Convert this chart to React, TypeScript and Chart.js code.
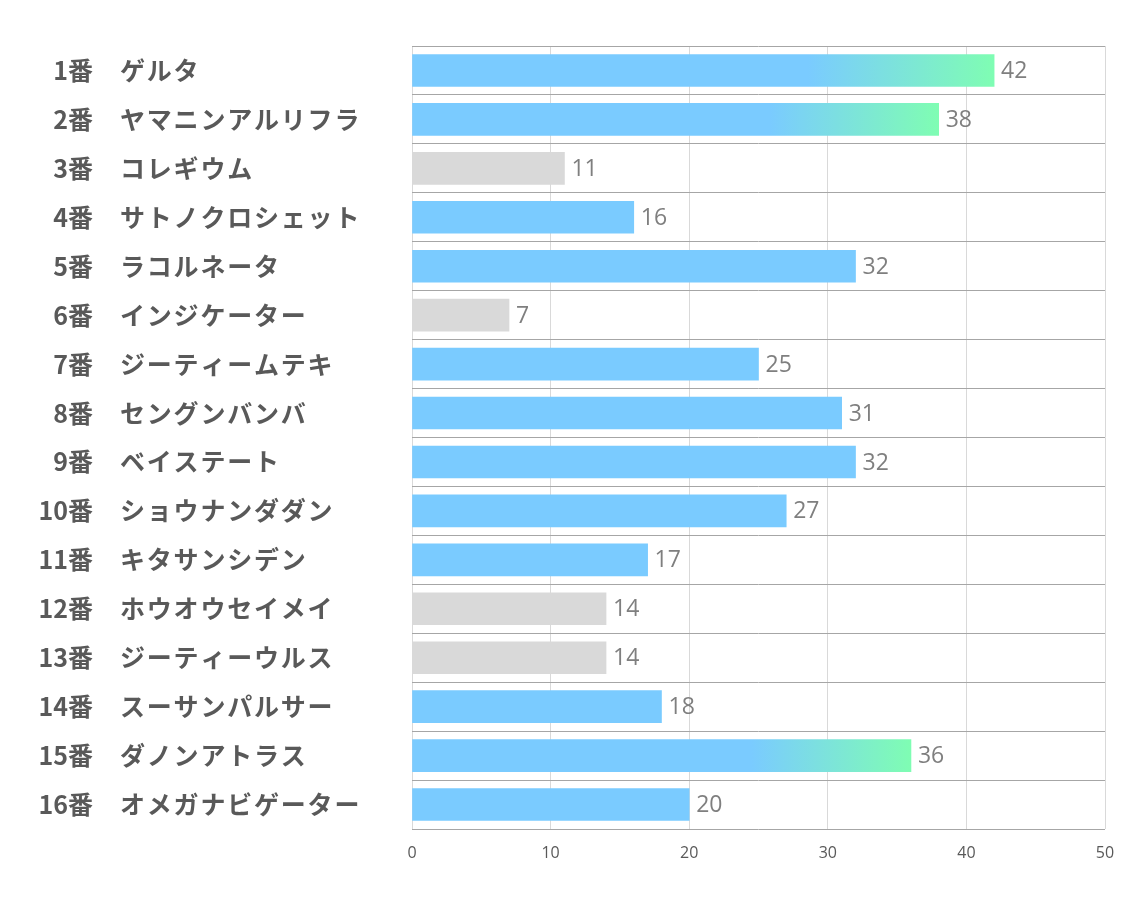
import React, { useEffect, useRef } from "react";
import { Chart, registerables } from "chart.js";

Chart.register(...registerables);

const numbers = ["1番", "2番", "3番", "4番", "5番", "6番", "7番", "8番", "9番", "10番", "11番", "12番", "13番", "14番", "15番", "16番"];
const names = ["ゲルタ", "ヤマニンアルリフラ", "コレギウム", "サトノクロシェット", "ラコルネータ", "インジケーター", "ジーティームテキ", "セングンバンバ", "ベイステート", "ショウナンダダン", "キタサンシデン", "ホウオウセイメイ", "ジーティーウルス", "スーサンパルサー", "ダノンアトラス", "オメガナビゲーター"];
const values = [42, 38, 11, 16, 32, 7, 25, 31, 32, 27, 17, 14, 14, 18, 36, 20];
// kind: "g" = gradient highlight, "b" = blue, "x" = gray
const kinds = ["g", "g", "x", "b", "b", "x", "b", "b", "b", "b", "b", "x", "x", "b", "g", "b"];
const xTicks = [0, 10, 20, 30, 40, 50];

const BLUE = "#7ACBFF";
const GREEN = "#7FFDB3";
const GRAY = "#D9D9D9";

export default function App() {
  const ref = useRef<HTMLCanvasElement | null>(null);

  useEffect(() => {
    document.body.style.margin = "0";
    const canvas = ref.current!;
    const labelPlugin = {
      id: "rowLabels",
      afterDraw(chart: any) {
        const ctx = chart.ctx;
        const y = chart.scales.y;
        ctx.save();
        ctx.fillStyle = "#595959";
        ctx.font = "bold 25px 'Noto Sans CJK JP', 'Noto Sans', sans-serif";
        ctx.textBaseline = "middle";
        numbers.forEach((n, i) => {
          const cy = y.getPixelForValue(i);
          ctx.textAlign = "right";
          ctx.fillText(n, 93, cy);
          ctx.textAlign = "left";
          (ctx as any).letterSpacing = "1.8px";
          ctx.fillText(names[i], 120, cy);
          (ctx as any).letterSpacing = "0px";
        });
        // value labels
        const meta = chart.getDatasetMeta(0);
        ctx.font = "23px 'Open Sans', 'Noto Sans', sans-serif";
        ctx.fillStyle = "#7F7F7F";
        ctx.textAlign = "left";
        meta.data.forEach((bar: any, i: number) => {
          ctx.fillText(String(values[i]), bar.x + 7, bar.y + 1);
        });
        // x tick labels
        const xs = chart.scales.x;
        ctx.font = "16px 'Open Sans', 'Noto Sans', sans-serif";
        ctx.fillStyle = "#595959";
        ctx.textAlign = "center";
        xTicks.forEach((v) => {
          ctx.fillText(String(v), xs.getPixelForValue(v), 853);
        });
        ctx.restore();
      },
    };

    const chart = new Chart(canvas, {
      type: "bar",
      data: {
        labels: numbers.map((n, i) => n + "　" + names[i]),
        datasets: [
          {
            data: values,
            barThickness: 32,
            backgroundColor: (c: any) => {
              const i = c.dataIndex;
              const k = kinds[i];
              if (k === "x") return GRAY;
              if (k === "b") return BLUE;
              const chartObj = c.chart;
              const xs = chartObj.scales.x;
              if (!xs || !chartObj.chartArea) return BLUE;
              const x0 = xs.getPixelForValue(0);
              const x1 = xs.getPixelForValue(values[i]);
              const g = chartObj.ctx.createLinearGradient(x0, 0, x1, 0);
              g.addColorStop(0, BLUE);
              g.addColorStop(0.68, BLUE);
              g.addColorStop(1, GREEN);
              return g;
            },
            borderWidth: 0,
          },
        ],
      },
      options: {
        indexAxis: "y",
        animation: false,
        responsive: false,
        maintainAspectRatio: false,
        layout: { padding: { left: 412, right: 29, top: 46, bottom: 0 } },
        plugins: { legend: { display: false }, tooltip: { enabled: false } },
        scales: {
          x: {
            min: 0,
            max: 50,
            afterBuildTicks: (s: any) => {
              s.ticks = xTicks.map((v) => ({ value: v }));
            },
            afterFit: (s: any) => {
              s.height = 78;
            },
            grid: { color: "#D9D9D9", drawTicks: false, lineWidth: 1 },
            border: { display: false },
            ticks: { display: false },
          },
          y: {
            afterFit: (s: any) => {
              s.width = 0;
            },
            grid: { color: "#A6A6A6", drawTicks: false, lineWidth: 1, offset: true },
            border: { display: false },
            ticks: { display: false },
          },
        },
      },
      plugins: [labelPlugin],
    } as any);
    return () => chart.destroy();
  }, []);

  return (
    <div style={{ position: "fixed", left: 0, top: 0, width: 1134, height: 907, background: "#fff" }}>
      <canvas ref={ref} width={1134} height={907} style={{ width: 1134, height: 907 }} />
    </div>
  );
}
